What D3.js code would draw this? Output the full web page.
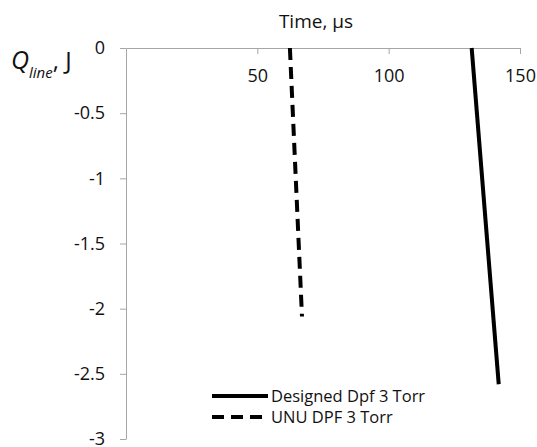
<!DOCTYPE html>
<html>
<head>
<meta charset="utf-8">
<script src="https://cdn.jsdelivr.net/npm/d3@7"></script>
<style>
  body { margin: 0; background: #fff; }
  svg { font-family: 'Open Sans', sans-serif; }
</style>
</head>
<body>
<svg id="chart" width="537" height="447"></svg>
<script>
const xTicks = [50, 100, 150]
const yTicks = [0, -0.5, -1, -1.5, -2, -2.5, -3]

const designedTime = [131.6, 141.9]
const designedQ = [0, -2.58]
const unuTime = [62.4, 67.0]
const unuQ = [0, -2.06]

const seriesNames = ['Designed Dpf 3 Torr', 'UNU DPF 3 Torr']

const svg = d3.select('#chart')

const x = d3.scaleLinear().domain([0, 150]).range([126, 520])
const y = d3.scaleLinear().domain([-3, 0]).range([439, 48])

const axisColor = '#a6a6a6'
const tickFont = 18

// x axis on top, ticks pointing down, labels below
const xAxis = svg.append('g')
  .attr('transform', `translate(0 ${y(0)})`)
  .call(d3.axisBottom(x).tickValues(xTicks).tickSizeInner(6).tickSizeOuter(0).tickPadding(15))
xAxis.select('.domain').attr('stroke', axisColor)
xAxis.selectAll('.tick line').attr('stroke', axisColor)
xAxis.selectAll('.tick text')
  .attr('font-family', 'Open Sans, sans-serif')
  .attr('font-size', tickFont)
  .attr('fill', '#111')

const yAxis = svg.append('g')
  .attr('transform', `translate(${x(0)} 0)`)
  .call(d3.axisLeft(y).tickValues(yTicks).tickSizeInner(6).tickSizeOuter(0).tickPadding(15)
    .tickFormat((d) => d3.format('')(d).replace('−', '-')))
yAxis.select('.domain').attr('stroke', axisColor)
yAxis.selectAll('.tick line').attr('stroke', axisColor)
yAxis.selectAll('.tick text')
  .attr('font-family', 'Open Sans, sans-serif')
  .attr('font-size', tickFont)
  .attr('fill', '#111')

// title of x axis
svg.append('text')
  .attr('x', 316)
  .attr('y', 28)
  .attr('text-anchor', 'middle')
  .attr('font-size', 19)
  .attr('fill', '#111')
  .text('Time, μs')

// y label
const ylab = svg.append('text')
  .attr('x', 11)
  .attr('y', 69)
  .attr('fill', '#111')
ylab.append('tspan').attr('font-style', 'italic').attr('font-size', 25).text('Q')
ylab.append('tspan').attr('font-style', 'italic').attr('font-size', 15).attr('dy', 9).text('line')
ylab.append('tspan').attr('font-size', 24).attr('dy', -9).text(', J')

const line = d3.line().x((d) => x(d[0])).y((d) => y(d[1]))

svg.append('path')
  .datum(d3.zip(designedTime, designedQ))
  .attr('fill', 'none')
  .attr('stroke', '#000')
  .attr('stroke-width', 4)
  .attr('d', line)

svg.append('path')
  .datum(d3.zip(unuTime, unuQ))
  .attr('fill', 'none')
  .attr('stroke', '#000')
  .attr('stroke-width', 4)
  .attr('stroke-dasharray', '12,7')
  .attr('d', line)

// legend
const legend = svg.append('g').attr('transform', 'translate(212 396)')
seriesNames.forEach((name, i) => {
  const g = legend.append('g').attr('transform', `translate(0 ${i * 21})`)
  g.append('line')
    .attr('x1', 0).attr('x2', 56)
    .attr('stroke', '#000')
    .attr('stroke-width', 4)
    .attr('stroke-dasharray', i === 1 ? '12,7' : null)
  g.append('text')
    .attr('x', 59)
    .attr('y', 6)
    .attr('font-size', 16.5)
    .attr('fill', '#111')
    .text(name)
})
</script>
</body>
</html>
